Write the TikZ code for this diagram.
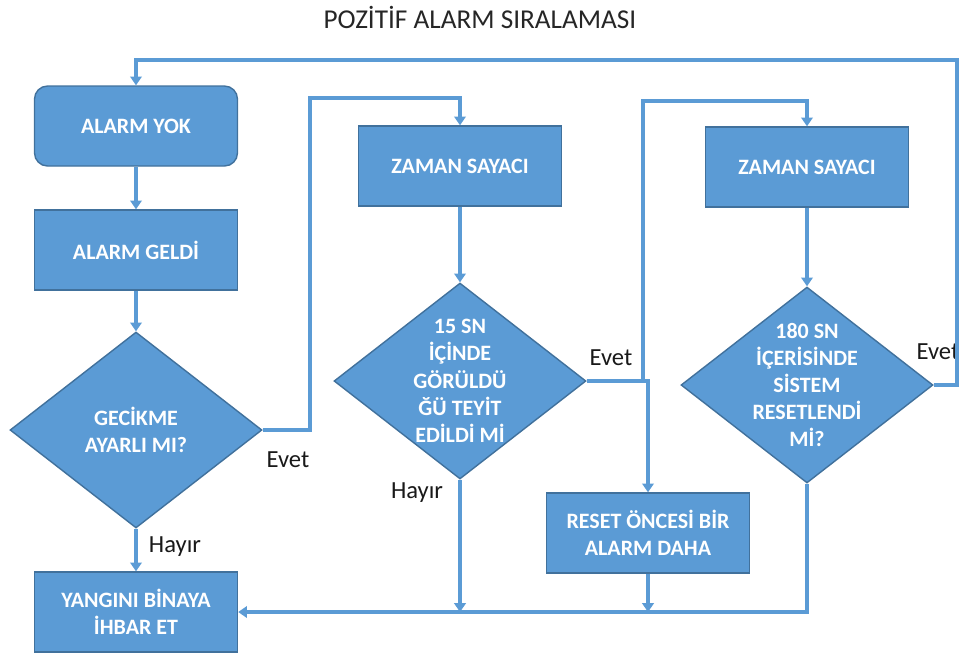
\documentclass[tikz,border=0pt]{standalone}
\usepackage{fontspec}
\setmainfont{Carlito}
\usepackage{tikz}
\usetikzlibrary{arrows.meta,positioning,shapes.geometric}
\definecolor{mavi}{HTML}{5B9BD5}
\definecolor{koyumavi}{HTML}{41719C}
\tikzset{
    %Define standard arrow tip
    >={Triangle[width=6.5pt,length=5pt]},
    %Define style for boxes
    kutu/.style={
           rectangle,
           fill=mavi,
           draw=koyumavi, line width=0.8pt,
           minimum width=4.06cm,
           minimum height=1.6cm,
           text=white,
           font=\fontsize{12.5}{15.5}\selectfont\bfseries,
           align=center},
    yuvarlak/.style={
           kutu,
           rounded corners=0.26cm},
    karar/.style={
           diamond,
           fill=mavi,
           draw=koyumavi, line width=0.8pt,
           inner sep=0pt,
           minimum width=5.04cm,
           minimum height=3.92cm},
    yazi/.style={
           text=white,
           font=\fontsize{12.5}{15.5}\selectfont\bfseries,
           align=center},
    etiket/.style={
           text=black!90,
           font=\fontsize{14}{16}\selectfont},
    % Define arrow style
    ok/.style={
           ->,
           draw=mavi,
           line width=2pt}
}
\begin{document}
\begin{tikzpicture}[x=0.02cm,y=-0.02cm]
\useasboundingbox (0,0) rectangle (960,657);
 %nodes
\node[font=\fontsize{15.5}{18}\selectfont, text=black!85] (t) at (480,17) {POZİTİF ALARM SIRALAMASI};
\node[yuvarlak] (1) at (136,126) {ALARM YOK};
\node[kutu] (2) at (136,250) {ALARM GELDİ};
\node[karar] (3) at (136,430) {};
\node[yazi] at (3) {GECİKME\\AYARLI MI?};
\node[kutu] (4) at (136,612) {YANGINI BİNAYA\\İHBAR ET};
\node[kutu] (5) at (460,166) {ZAMAN SAYACI};
\node[karar] (6) at (460,381) {};
\node[yazi] at (6) {15 SN\\İÇİNDE\\GÖRÜLDÜ\\ĞÜ TEYİT\\EDİLDİ Mİ};
\node[kutu] (7) at (648,533) {RESET ÖNCESİ BİR\\ALARM DAHA};
\node[kutu] (8) at (807,167) {ZAMAN SAYACI};
\node[karar] (9) at (807,385) {};
\node[yazi] at (9) {180 SN\\İÇERİSİNDE\\SİSTEM\\RESETLENDİ\\Mİ?};
 %corners
\coordinate (k1) at (310,98);
\coordinate (k2) at (643,101);
\coordinate (k3) at (957,60);
\coordinate (a1) at (460,612);
\coordinate (a2) at (648,612);
 %labels
\node[etiket] (e1) at (288,460) {Evet};
\node[etiket] (e2) at (611,358) {Evet};
\node[etiket] (e3) at (938,352) {Evet};
\node[etiket] (h1) at (175,547) {Hayır};
\node[etiket] (h2) at (417,493) {Hayır};
 %connectors
\draw[ok] (1) -- (2);
\draw[ok] (2) -- (3);
\draw[ok] (3) -- (4);
\draw[ok] (5) -- (6);
\draw[ok] (8) -- (9);
\draw[ok] (6.south) -- (a1);
\draw[ok] (7.south) -- (a2);
\draw[ok] (3.east) -| (k1) -| (5.north);
\draw[ok] (6.east) -| (k2) -| (8.north);
\draw[ok] (6.east) -| (7.north);
\draw[ok] (9.east) -| (k3) -| (1.north);
\draw[ok] (9.south) |- (4.east);
\end{tikzpicture}
\end{document}
